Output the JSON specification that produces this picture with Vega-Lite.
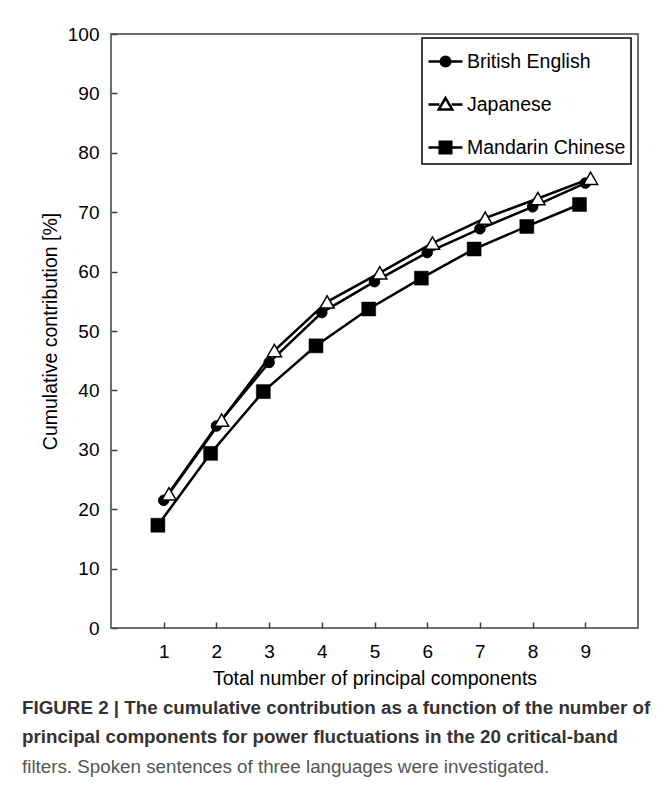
{
  "$schema": "https://vega.github.io/schema/vega-lite/v6.json",
  "width": 527,
  "height": 594,
  "autosize": {"type": "none"},
  "padding": {"left": 111, "top": 34, "right": 27, "bottom": 176},
  "background": "white",
  "config": {
    "font": "Liberation Sans",
    "view": {"stroke": "#404040", "strokeWidth": 1.5},
    "axis": {
      "domain": false,
      "grid": false,
      "tickColor": "#404040",
      "tickWidth": 1.5,
      "tickSize": -6,
      "labelFont": "Liberation Sans",
      "labelFontSize": 19,
      "labelColor": "black",
      "titleFont": "Liberation Sans",
      "titleFontSize": 19.5,
      "titleFontWeight": "normal",
      "titleColor": "black"
    }
  },
  "title": {
    "text": ["FIGURE 2 | The cumulative contribution as a function of the number of", "principal components for power fluctuations in the 20 critical-band"],
    "subtitle": "filters. Spoken sentences of three languages were investigated.",
    "orient": "bottom",
    "anchor": "start",
    "frame": "group",
    "dx": -89,
    "offset": 11,
    "font": "Liberation Sans",
    "fontSize": 18.8,
    "fontWeight": "bold",
    "color": "#333333",
    "lineHeight": 29.5,
    "subtitleFont": "Liberation Sans",
    "subtitleFontSize": 18.8,
    "subtitleColor": "#555555",
    "subtitlePadding": 11
  },
  "data": {
    "values": [
      {"lang": "British English", "n": 1, "x": 1.0, "v": 21.5},
      {"lang": "British English", "n": 2, "x": 2.0, "v": 34.0},
      {"lang": "British English", "n": 3, "x": 3.0, "v": 44.7},
      {"lang": "British English", "n": 4, "x": 4.0, "v": 53.1},
      {"lang": "British English", "n": 5, "x": 5.0, "v": 58.3},
      {"lang": "British English", "n": 6, "x": 6.0, "v": 63.2},
      {"lang": "British English", "n": 7, "x": 7.0, "v": 67.2},
      {"lang": "British English", "n": 8, "x": 8.0, "v": 70.9},
      {"lang": "British English", "n": 9, "x": 9.0, "v": 74.9},
      {"lang": "Japanese", "n": 1, "x": 1.1, "v": 22.6},
      {"lang": "Japanese", "n": 2, "x": 2.1, "v": 35.0},
      {"lang": "Japanese", "n": 3, "x": 3.1, "v": 46.7},
      {"lang": "Japanese", "n": 4, "x": 4.1, "v": 54.9},
      {"lang": "Japanese", "n": 5, "x": 5.1, "v": 59.8},
      {"lang": "Japanese", "n": 6, "x": 6.1, "v": 64.8},
      {"lang": "Japanese", "n": 7, "x": 7.1, "v": 69.0},
      {"lang": "Japanese", "n": 8, "x": 8.1, "v": 72.3},
      {"lang": "Japanese", "n": 9, "x": 9.1, "v": 75.7},
      {"lang": "Mandarin Chinese", "n": 1, "x": 0.89, "v": 17.3},
      {"lang": "Mandarin Chinese", "n": 2, "x": 1.89, "v": 29.4},
      {"lang": "Mandarin Chinese", "n": 3, "x": 2.89, "v": 39.8},
      {"lang": "Mandarin Chinese", "n": 4, "x": 3.89, "v": 47.5},
      {"lang": "Mandarin Chinese", "n": 5, "x": 4.89, "v": 53.7},
      {"lang": "Mandarin Chinese", "n": 6, "x": 5.89, "v": 58.9},
      {"lang": "Mandarin Chinese", "n": 7, "x": 6.89, "v": 63.8},
      {"lang": "Mandarin Chinese", "n": 8, "x": 7.89, "v": 67.6},
      {"lang": "Mandarin Chinese", "n": 9, "x": 8.89, "v": 71.3}
    ]
  },
  "encoding": {
    "x": {
      "field": "x",
      "type": "quantitative",
      "scale": {"domain": [0, 10], "nice": false, "zero": false},
      "axis": {
        "values": [1, 2, 3, 4, 5, 6, 7, 8, 9],
        "labelPadding": 20,
        "titlePadding": 8,
        "title": "Total number of principal components"
      }
    },
    "y": {
      "field": "v",
      "type": "quantitative",
      "scale": {"domain": [0, 100], "nice": false},
      "axis": {
        "values": [0, 10, 20, 30, 40, 50, 60, 70, 80, 90, 100],
        "labelPadding": 18,
        "titlePadding": 7,
        "title": "Cumulative contribution [%]"
      }
    }
  },
  "layer": [
    {
      "mark": {"type": "line", "strokeWidth": 2.5},
      "encoding": {
        "order": {"field": "n", "type": "quantitative"},
        "color": {
          "field": "lang",
          "type": "nominal",
          "scale": {"domain": ["British English", "Japanese", "Mandarin Chinese"], "range": ["black", "black", "black"]},
          "legend": {
            "title": null,
            "orient": "none",
            "legendX": 311,
            "legendY": 4,
            "direction": "vertical",
            "strokeColor": "black",
            "padding": 5,
            "symbolSize": 1156,
            "symbolStrokeWidth": 2.5,
            "symbolStrokeColor": "black",
            "labelFont": "Liberation Sans",
            "labelFontSize": 19.5,
            "labelColor": "black",
            "labelOffset": 3,
            "rowPadding": 14,
            "labelLimit": 300,
            "encode": {
              "symbols": {
                "update": {
                  "shape": {"signal": "datum.value === 'British English' ? 'M-1,0H1M-0.28,0A0.28,0.28,0,1,1,0.28,0A0.28,0.28,0,1,1,-0.28,0Z' : datum.value === 'Japanese' ? 'M-1,0H-0.36M0.36,0H1M0,-0.38L0.4,0.3L-0.4,0.3Z' : 'M-1,0H1M-0.34,-0.34H0.34V0.34H-0.34Z'"},
                  "fill": {"signal": "datum.value === 'Japanese' ? 'white' : 'black'"},
                  "stroke": {"value": "black"},
                  "strokeWidth": {"value": 2.5},
                  "opacity": {"value": 1}
                }
              },
              "legend": {"update": {"strokeWidth": {"value": 1.5}}}
            }
          }
        }
      }
    },
    {
      "transform": [{"filter": "datum.lang === 'British English'"}],
      "mark": {"type": "point", "shape": "circle", "filled": true, "fill": "black", "stroke": "black", "strokeWidth": 1, "size": 110, "opacity": 1}
    },
    {
      "transform": [{"filter": "datum.lang === 'Japanese'"}],
      "mark": {"type": "point", "shape": "triangle-up", "filled": true, "fill": "white", "stroke": "black", "strokeWidth": 1.5, "size": 200, "opacity": 1}
    },
    {
      "transform": [{"filter": "datum.lang === 'Mandarin Chinese'"}],
      "mark": {"type": "point", "shape": "square", "filled": true, "fill": "black", "stroke": "black", "strokeWidth": 0.5, "size": 196, "opacity": 1}
    }
  ]
}
